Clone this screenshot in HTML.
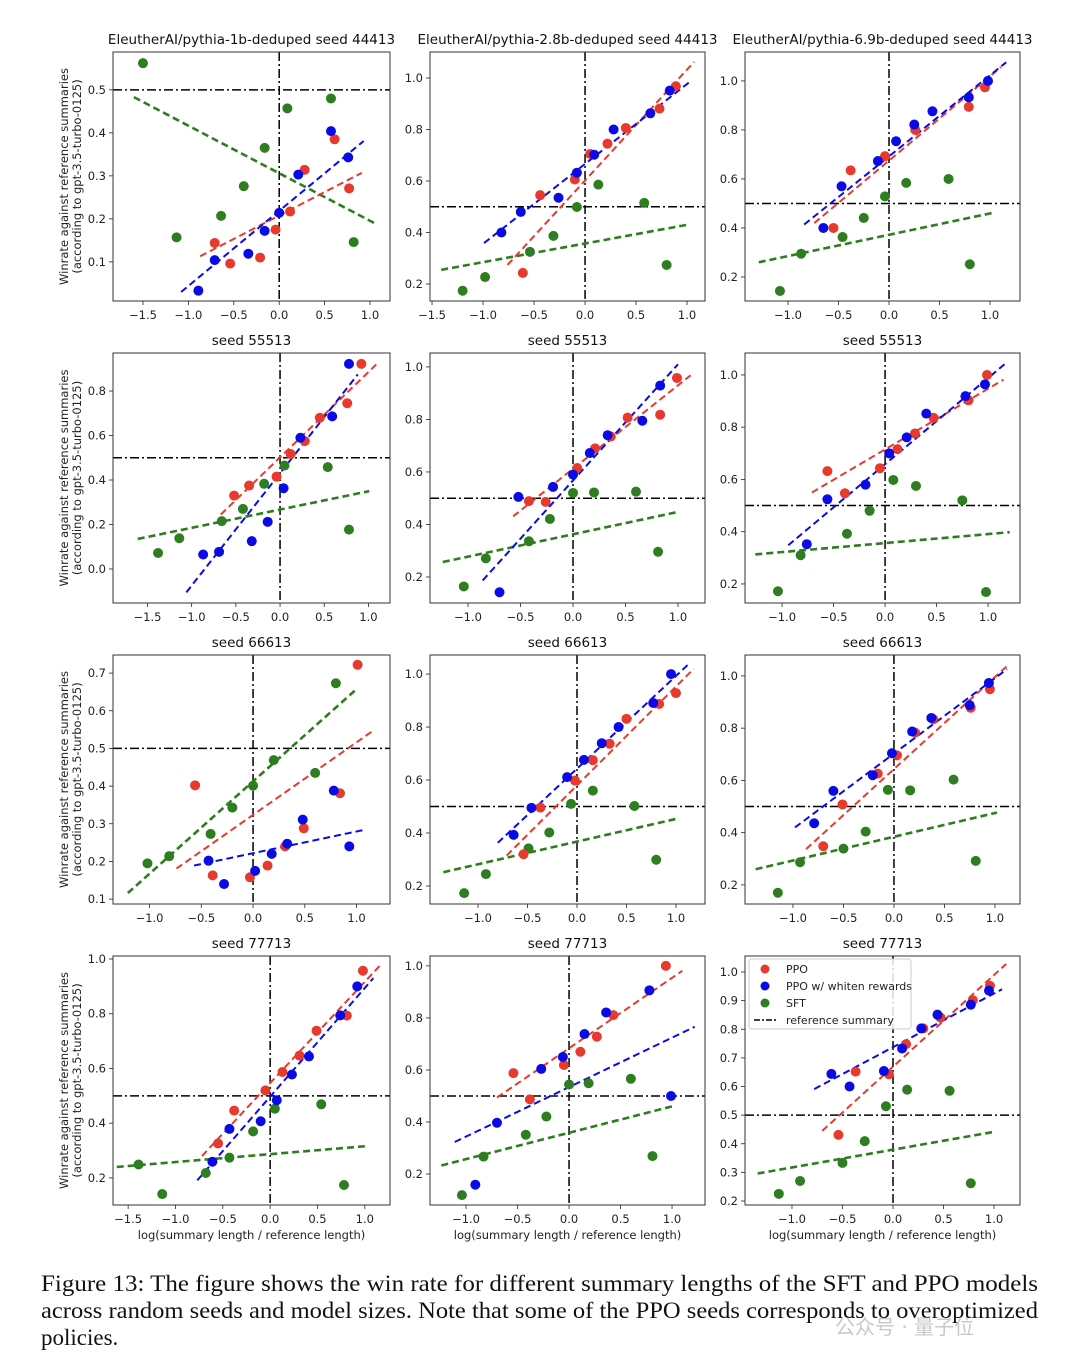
<!DOCTYPE html>
<html><head><meta charset="utf-8"><style>
html,body{margin:0;padding:0;background:#fff;}
svg{display:block;}
text{font-family:"DejaVu Sans","Liberation Sans",sans-serif;}
.cap{font-family:"Liberation Serif",serif;font-size:23px;fill:#111;}
</style></head><body>
<svg id="fig" width="1080" height="1367" viewBox="0 0 1080 1367" xmlns="http://www.w3.org/2000/svg"></svg>
<script>
// ---- data (x = log length ratio, y = winrate) ----
const titles = ["EleutherAI/pythia-1b-deduped seed 44413","EleutherAI/pythia-2.8b-deduped seed 44413","EleutherAI/pythia-6.9b-deduped seed 44413","seed 55513","seed 55513","seed 55513","seed 66613","seed 66613","seed 66613","seed 77713","seed 77713","seed 77713"];
const xDomains = [[-1.83,1.22],[-1.52,1.176],[-1.426,1.297],[-1.89,1.244],[-1.362,1.257],[-1.36,1.31],[-1.353,1.323],[-1.485,1.293],[-1.475,1.248],[-1.66,1.266],[-1.35,1.32],[-1.465,1.257]];
const yDomains = [[0.009,0.588],[0.134,1.101],[0.102,1.118],[-0.153,0.971],[0.101,1.053],[0.127,1.084],[0.087,0.748],[0.132,1.072],[0.127,1.08],[0.101,1.011],[0.081,1.038],[0.186,1.056]];
const xTicks = [[-1.5,-1,-0.5,0,0.5,1],[-1.5,-1,-0.5,0,0.5,1],[-1,-0.5,0,0.5,1],[-1.5,-1,-0.5,0,0.5,1],[-1,-0.5,0,0.5,1],[-1,-0.5,0,0.5,1],[-1,-0.5,0,0.5,1],[-1,-0.5,0,0.5,1],[-1,-0.5,0,0.5,1],[-1.5,-1,-0.5,0,0.5,1],[-1,-0.5,0,0.5,1],[-1,-0.5,0,0.5,1]];
const yTicks = [[0.1,0.2,0.3,0.4,0.5],[0.2,0.4,0.6,0.8,1.0],[0.2,0.4,0.6,0.8,1.0],[0.0,0.2,0.4,0.6,0.8],[0.2,0.4,0.6,0.8,1.0],[0.2,0.4,0.6,0.8,1.0],[0.1,0.2,0.3,0.4,0.5,0.6,0.7],[0.2,0.4,0.6,0.8,1.0],[0.2,0.4,0.6,0.8,1.0],[0.2,0.4,0.6,0.8,1.0],[0.2,0.4,0.6,0.8,1.0],[0.2,0.3,0.4,0.5,0.6,0.7,0.8,0.9,1.0]];

const ppo = [
 [[-0.71,0.144],[-0.54,0.096],[-0.21,0.11],[-0.04,0.175],[0.12,0.217],[0.28,0.314],[0.61,0.385],[0.77,0.271]],
 [[-0.61,0.243],[-0.44,0.545],[-0.10,0.606],[0.05,0.705],[0.22,0.745],[0.40,0.806],[0.73,0.881],[0.89,0.968]],
 [[-0.55,0.40],[-0.38,0.635],[-0.04,0.693],[0.26,0.80],[0.79,0.894],[0.95,0.974]],
 [[-0.52,0.33],[-0.35,0.375],[-0.04,0.415],[0.12,0.517],[0.28,0.575],[0.45,0.68],[0.76,0.745],[0.92,0.922]],
 [[-0.42,0.489],[-0.26,0.486],[0.04,0.615],[0.21,0.69],[0.36,0.735],[0.52,0.807],[0.83,0.818],[0.99,0.958]],
 [[-0.56,0.632],[-0.39,0.547],[-0.05,0.643],[0.12,0.716],[0.29,0.776],[0.47,0.836],[0.81,0.903],[0.99,1.0]],
 [[-0.56,0.402],[-0.39,0.163],[-0.03,0.158],[0.14,0.189],[0.31,0.24],[0.49,0.288],[0.84,0.381],[1.01,0.722]],
 [[-0.54,0.32],[-0.37,0.496],[-0.02,0.598],[0.16,0.675],[0.33,0.737],[0.50,0.831],[0.83,0.887],[1.0,0.928]],
 [[-0.70,0.348],[-0.51,0.508],[-0.16,0.626],[0.03,0.696],[0.21,0.783],[0.39,0.834],[0.76,0.878],[0.95,0.949]],
 [[-0.55,0.326],[-0.38,0.446],[-0.05,0.52],[0.13,0.587],[0.31,0.647],[0.49,0.738],[0.81,0.793],[0.98,0.957]],
 [[-0.54,0.588],[-0.38,0.487],[-0.05,0.619],[0.11,0.67],[0.27,0.728],[0.43,0.811],[0.94,1.0]],
 [[-0.54,0.431],[-0.37,0.652],[-0.04,0.643],[0.13,0.748],[0.30,0.803],[0.47,0.841],[0.79,0.902],[0.96,0.952]]
];
const whiten = [
 [[-0.89,0.033],[-0.71,0.104],[-0.34,0.119],[-0.16,0.172],[0.0,0.214],[0.21,0.303],[0.57,0.404],[0.76,0.343]],
 [[-0.82,0.40],[-0.63,0.48],[-0.26,0.535],[-0.08,0.632],[0.09,0.702],[0.28,0.80],[0.64,0.863],[0.83,0.951]],
 [[-0.65,0.40],[-0.47,0.57],[-0.11,0.673],[0.07,0.754],[0.25,0.822],[0.43,0.876],[0.79,0.933],[0.98,1.0]],
 [[-0.87,0.065],[-0.69,0.077],[-0.32,0.125],[-0.14,0.212],[0.04,0.363],[0.23,0.59],[0.59,0.686],[0.78,0.922]],
 [[-0.70,0.142],[-0.52,0.505],[-0.19,0.543],[0.0,0.59],[0.16,0.672],[0.33,0.74],[0.66,0.795],[0.83,0.929]],
 [[-0.76,0.352],[-0.56,0.524],[-0.19,0.58],[0.04,0.70],[0.21,0.761],[0.40,0.852],[0.78,0.919],[0.97,0.964]],
 [[-0.43,0.202],[-0.28,0.14],[0.02,0.175],[0.18,0.22],[0.33,0.247],[0.48,0.311],[0.78,0.388],[0.93,0.24]],
 [[-0.64,0.393],[-0.46,0.495],[-0.10,0.611],[0.07,0.676],[0.25,0.739],[0.42,0.80],[0.77,0.891],[0.95,1.0]],
 [[-0.79,0.436],[-0.60,0.56],[-0.21,0.62],[-0.02,0.704],[0.18,0.787],[0.37,0.839],[0.75,0.888],[0.94,0.973]],
 [[-0.61,0.259],[-0.43,0.379],[-0.10,0.407],[0.07,0.484],[0.23,0.578],[0.41,0.644],[0.74,0.794],[0.92,0.90]],
 [[-0.91,0.159],[-0.70,0.397],[-0.27,0.604],[-0.06,0.65],[0.15,0.738],[0.36,0.821],[0.78,0.906],[0.99,0.50]],
 [[-0.61,0.644],[-0.43,0.6],[-0.09,0.654],[0.09,0.733],[0.28,0.803],[0.44,0.851],[0.77,0.886],[0.95,0.935]]
];
const sft = [
 [[-1.50,0.562],[-1.13,0.157],[-0.64,0.207],[-0.39,0.276],[-0.16,0.365],[0.09,0.457],[0.57,0.48],[0.82,0.146]],
 [[-1.20,0.174],[-0.98,0.227],[-0.54,0.325],[-0.31,0.387],[-0.08,0.499],[0.13,0.586],[0.58,0.515],[0.80,0.274]],
 [[-1.08,0.143],[-0.87,0.295],[-0.46,0.363],[-0.25,0.441],[-0.04,0.529],[0.17,0.584],[0.59,0.60],[0.80,0.252]],
 [[-1.38,0.072],[-1.14,0.138],[-0.66,0.215],[-0.42,0.27],[-0.18,0.383],[0.05,0.465],[0.54,0.458],[0.78,0.177]],
 [[-1.04,0.164],[-0.83,0.271],[-0.42,0.336],[-0.22,0.421],[0.0,0.52],[0.20,0.522],[0.60,0.525],[0.81,0.296]],
 [[-1.04,0.172],[-0.82,0.31],[-0.37,0.392],[-0.15,0.48],[0.08,0.598],[0.30,0.575],[0.75,0.52],[0.98,0.169]],
 [[-1.02,0.195],[-0.81,0.214],[-0.41,0.273],[-0.20,0.343],[0.0,0.401],[0.20,0.469],[0.60,0.435],[0.80,0.673]],
 [[-1.14,0.173],[-0.92,0.245],[-0.49,0.342],[-0.28,0.402],[-0.06,0.51],[0.16,0.56],[0.58,0.502],[0.80,0.299]],
 [[-1.15,0.17],[-0.93,0.287],[-0.50,0.339],[-0.28,0.404],[-0.06,0.564],[0.16,0.562],[0.59,0.603],[0.81,0.292]],
 [[-1.39,0.249],[-1.14,0.141],[-0.68,0.218],[-0.43,0.274],[-0.18,0.37],[0.05,0.453],[0.54,0.469],[0.78,0.174]],
 [[-1.04,0.119],[-0.83,0.267],[-0.42,0.351],[-0.22,0.421],[0.0,0.544],[0.19,0.549],[0.60,0.566],[0.81,0.269]],
 [[-1.13,0.225],[-0.92,0.27],[-0.50,0.333],[-0.28,0.409],[-0.07,0.531],[0.14,0.589],[0.56,0.585],[0.77,0.262]]
];
// fit lines: [x0,y0,x1,y1]
const ppoFit = [[-0.87,0.113,0.91,0.307],[-0.76,0.274,1.07,1.063],[-0.74,0.42,1.11,1.057],[-0.67,0.245,1.09,0.92],[-0.57,0.431,1.12,0.968],[-0.71,0.55,1.15,0.982],[-0.74,0.181,1.16,0.547],[-0.71,0.315,1.18,1.02],[-0.87,0.337,1.14,1.045],[-0.72,0.28,1.16,0.976],[-0.70,0.494,1.10,0.981],[-0.70,0.445,1.12,1.028]];
const whitenFit = [[-1.08,0.03,0.93,0.381],[-0.99,0.359,1.03,0.986],[-0.84,0.414,1.16,1.076],[-1.06,-0.105,0.88,0.875],[-0.86,0.187,1.0,1.01],[-0.94,0.348,1.16,1.041],[-0.57,0.189,1.06,0.283],[-0.80,0.363,1.12,1.035],[-0.98,0.42,1.12,1.026],[-0.77,0.191,1.09,0.93],[-1.11,0.323,1.22,0.766],[-0.78,0.591,1.08,0.94]];
const sftFit = [[-1.6,0.483,1.05,0.19],[-1.41,0.255,1.03,0.432],[-1.29,0.26,1.02,0.461],[-1.61,0.135,1.01,0.35],[-1.24,0.257,0.99,0.447],[-1.26,0.313,1.21,0.398],[-1.21,0.116,1.01,0.66],[-1.35,0.252,1.01,0.454],[-1.37,0.26,1.02,0.477],[-1.62,0.24,1.01,0.316],[-1.24,0.233,1.01,0.461],[-1.34,0.296,0.99,0.441]];

// ---- layout ----
const colX = [[113,390],[430,705],[745,1020]];
const rowY = [[52,301],[353,603],[655,904],[956,1205]];
const RED='#e8392d', BLUE='#0a0ae6', GREEN='#2e7d20';
const NS='http://www.w3.org/2000/svg';
const svg=document.getElementById('fig');
function mk(tag,attrs,parent){const e=document.createElementNS(NS,tag);for(const k in attrs)e.setAttribute(k,attrs[k]);(parent||svg).appendChild(e);return e;}
function fmt(v){return (v<0?'\u2212':'')+Math.abs(v).toFixed(1);}

for(let i=0;i<12;i++){
  const r=Math.floor(i/3), c=i%3;
  const [L,R]=colX[c], [T,B]=rowY[r];
  const [x0,x1]=xDomains[i], [y0,y1]=yDomains[i];
  const sx=v=>L+(v-x0)/(x1-x0)*(R-L);
  const sy=v=>B-(v-y0)/(y1-y0)*(B-T);
  const g=mk('g',{});
  
  
  const clipId='clip'+i;
  const cp=mk('clipPath',{id:clipId},g); mk('rect',{x:L,y:T,width:R-L,height:B-T},cp);
  const t=mk('text',{x:(L+R)/2,y:T-8,'text-anchor':'middle','font-size':'13.5',fill:'#111'},g);
  t.textContent=titles[i];
  
  
  // ticks
  xTicks[i].forEach(v=>{
    const X=sx(v);
    mk('line',{x1:X,x2:X,y1:B,y2:B+4,stroke:'#222','stroke-width':0.8},g);
    const tl=mk('text',{x:X,y:B+18,'text-anchor':'middle','font-size':'11.5',fill:'#222'},g);
    tl.textContent=fmt(v);
    
    
  });
  yTicks[i].forEach(v=>{
    const Y=sy(v);
    mk('line',{x1:L-4,x2:L,y1:Y,y2:Y,stroke:'#222','stroke-width':0.8},g);
    const tl=mk('text',{x:L-7,y:Y+4,'text-anchor':'end','font-size':'11.5',fill:'#222'},g);
    tl.textContent=fmt(v);
    
    
  });
  const pg=mk('g',{'clip-path':'url(#'+clipId+')'},g);
  // reference lines
  const hl=mk('line',{x1:L,x2:R,y1:sy(0.5),y2:sy(0.5),stroke:'#000','stroke-width':1.5,'stroke-dasharray':'9,3,2,3'},pg);
  
  
  const vl=mk('line',{x1:sx(0),x2:sx(0),y1:T,y2:B,stroke:'#000','stroke-width':1.5,'stroke-dasharray':'9,3,2,3'},pg);
  
  
  // fits
  [[sftFit[i],GREEN,2.6,'sft-fit-line'],[ppoFit[i],RED,2,'ppo-fit-line'],[whitenFit[i],BLUE,2,'whiten-fit-line']].forEach(([f,col,w,nm])=>{
    const ln=mk('line',{x1:sx(f[0]),y1:sy(f[1]),x2:sx(f[2]),y2:sy(f[3]),stroke:col,'stroke-width':w,'stroke-dasharray':'7,4'},pg);
    
    
  });
  // points
  [[sft[i],GREEN,'sft-point'],[ppo[i],RED,'ppo-point'],[whiten[i],BLUE,'whiten-point']].forEach(([pts,col,nm])=>{
    pts.forEach(p=>{
      const ci=mk('circle',{cx:sx(p[0]),cy:sy(p[1]),r:5,fill:col},pg);
      
      
    });
  });
  const fr=mk('rect',{x:L,y:T,width:R-L,height:B-T,fill:'none',stroke:'#333','stroke-width':1},g);
  
  
  if(c===0){
    const yl=mk('text',{transform:'translate(68,'+((T+B)/2)+') rotate(-90)','text-anchor':'middle','font-size':'11.5',fill:'#222'},g);
    yl.textContent='Winrate against reference summaries';
    
    
    const yl2=mk('text',{transform:'translate(81,'+((T+B)/2)+') rotate(-90)','text-anchor':'middle','font-size':'11.5',fill:'#222'},g);
    yl2.textContent='(according to gpt-3.5-turbo-0125)';
    
    
  }
  if(r===3){
    const xl=mk('text',{x:(L+R)/2,y:B+34,'text-anchor':'middle','font-size':'11.5',fill:'#222'},g);
    xl.textContent='log(summary length / reference length)';
    
    
  }
}
// legend
const lg=mk('g',{});


mk('rect',{x:749,y:959,width:162,height:70,rx:3,fill:'#fff','fill-opacity':0.85,stroke:'#ccc','stroke-width':1},lg);
[['PPO',RED,969],['PPO w/ whiten rewards',BLUE,986],['SFT',GREEN,1003]].forEach(([lab,col,y])=>{
  mk('circle',{cx:765,cy:y,r:4.5,fill:col},lg);
  const tx=mk('text',{x:786,y:y+4,'font-size':'11',fill:'#222'},lg);
  tx.textContent=lab;
  
  
});
mk('line',{x1:754,x2:777,y1:1020,y2:1020,stroke:'#000','stroke-width':1.5,'stroke-dasharray':'6,2,2,2'},lg);
const rt=mk('text',{x:786,y:1024,'font-size':'11',fill:'#222'},lg);
rt.textContent='reference summary';


// caption
const caps=[['Figure 13: The figure shows the win rate for different summary lengths of the SFT and PPO models',1291,997],['across random seeds and model sizes. Note that some of the PPO seeds corresponds to overoptimized',1318,997],['policies.',1345,0]];
caps.forEach(([s,y,w])=>{
  const a={x:41,y:y,class:'cap'}; if(w){a.textLength=w;a.lengthAdjust='spacingAndGlyphs';}
  const tx=mk('text',a);
  tx.textContent=s;
  
  
});
const wm=mk('text',{x:835,y:1334,'font-size':'20',fill:'#c8c8c8','font-family':'"Liberation Sans","Noto Sans CJK SC",sans-serif'});
wm.textContent='公众号 · 量子位';


</script>
</body></html>
